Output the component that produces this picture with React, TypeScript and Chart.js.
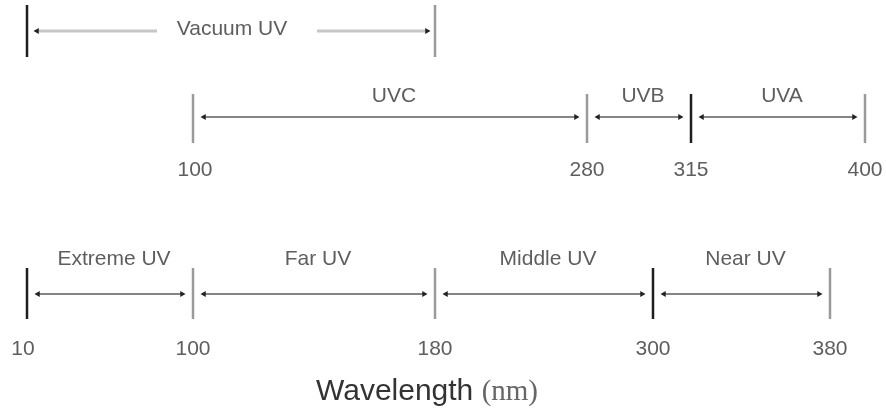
import React, { useEffect, useRef } from "react";
import { Chart, registerables } from "chart.js";

Chart.register(...registerables);

// ---------- data ----------
const vacuumName = "Vacuum UV";
const vacuumEdgePos = [27, 435]; // diagram-axis positions (10 nm .. 200 nm region)

const uvNames = ["UVC", "UVB", "UVA"];
const uvEdgesNm = ["100", "280", "315", "400"];
const uvEdgePos = [193, 587, 691, 865];
const uvEdgeDark = [false, false, true, false];

const bandNames = ["Extreme UV", "Far UV", "Middle UV", "Near UV"];
const bandEdgesNm = ["10", "100", "180", "300", "380"];
const bandEdgePos = [27, 193, 435, 653, 830];
const bandEdgeDark = [true, false, false, true, false];

const axisTitle = "Wavelength";
const axisUnit = "(nm)";

// ---------- layout / style ----------
const W = 886;
const H = 414;
const ROW1 = { top: 5, bottom: 57, arrow: 31, text: 29 };
const ROW2 = { top: 94, bottom: 143, arrow: 117, text: 96, tick: 170 };
const ROW3 = { top: 268, bottom: 319, arrow: 294, text: 259, tick: 349 };
const INSET = 11;
const DARK = "#1e1e1e";
const GREY = "#9a9a9a";
const ARROW = "#858585";
const LABEL_FONT = '21px "Liberation Sans", Arial, sans-serif';
const LABEL_COLOR = "#5e5e5e";

function barDs(x: number, row: any, dark: boolean) {
  return {
    data: [
      { x, y: row.top },
      { x, y: row.bottom },
    ],
    showLine: true,
    borderColor: dark ? DARK : GREY,
    borderWidth: 2.5,
    pointRadius: 0,
  };
}

function arrowDs(a: number, b: number, y: number, color: string, width: number) {
  return {
    data: [
      { x: a, y },
      { x: b, y },
    ],
    showLine: true,
    borderColor: color,
    borderWidth: width,
    pointStyle: "triangle",
    pointRotation: [270, 90],
    pointRadius: 3.5,
    pointBorderWidth: 0,
    pointBackgroundColor: "#222",
  };
}

function buildDatasets() {
  const ds: any[] = [];
  // Row 1: vacuum UV
  ds.push(barDs(vacuumEdgePos[0], ROW1, true));
  ds.push(barDs(vacuumEdgePos[1], ROW1, false));
  ds.push({
    ...arrowDs(vacuumEdgePos[0] + 10, 157, ROW1.arrow, "#c6c6c6", 3),
    pointRotation: [270, 0],
    pointRadius: [3.5, 0],
  });
  ds.push({
    ...arrowDs(317, vacuumEdgePos[1] - 8, ROW1.arrow, "#c6c6c6", 3),
    pointRotation: [0, 90],
    pointRadius: [0, 3.5],
  });
  // Row 2: UVC/UVB/UVA
  uvEdgePos.forEach((p, i) => ds.push(barDs(p, ROW2, uvEdgeDark[i])));
  for (let i = 0; i < uvNames.length; i++) {
    ds.push(arrowDs(uvEdgePos[i] + INSET, uvEdgePos[i + 1] - INSET, ROW2.arrow, ARROW, 2));
  }
  // Row 3: bands
  bandEdgePos.forEach((p, i) => ds.push(barDs(p, ROW3, bandEdgeDark[i])));
  for (let i = 0; i < bandNames.length; i++) {
    ds.push(arrowDs(bandEdgePos[i] + INSET, bandEdgePos[i + 1] - INSET, ROW3.arrow, ARROW, 2));
  }
  return ds;
}

const textPlugin = {
  id: "diagramText",
  afterDatasetsDraw(chart: any) {
    const { ctx, scales } = chart;
    const px = (v: number) => scales.x.getPixelForValue(v);
    const py = (v: number) => scales.y.getPixelForValue(v);
    ctx.save();
    ctx.textAlign = "center";
    ctx.textBaseline = "middle";
    ctx.font = LABEL_FONT;
    ctx.fillStyle = LABEL_COLOR;
    // Vacuum UV
    ctx.fillText(vacuumName, (px(vacuumEdgePos[0]) + px(vacuumEdgePos[1])) / 2 + 1, py(ROW1.text));
    // UV names
    uvNames.forEach((n, i) => {
      ctx.fillText(n, (px(uvEdgePos[i]) + px(uvEdgePos[i + 1])) / 2 + 4, py(ROW2.text));
    });
    uvEdgesNm.forEach((t, i) => ctx.fillText(t, px(uvEdgePos[i]) + (i === 0 ? 2 : 0), py(ROW2.tick)));
    bandNames.forEach((n, i) => {
      ctx.fillText(n, (px(bandEdgePos[i]) + px(bandEdgePos[i + 1])) / 2 + 4, py(ROW3.text));
    });
    bandEdgesNm.forEach((t, i) => ctx.fillText(t, px(bandEdgePos[i]) - (i === 0 ? 4 : 0), py(ROW3.tick)));
    // Axis title
    ctx.textAlign = "left";
    ctx.textBaseline = "alphabetic";
    const titleFont = '30px "Liberation Sans", Arial, sans-serif';
    const unitFont = '29px "Liberation Serif", "Times New Roman", serif';
    ctx.font = titleFont;
    const w1 = ctx.measureText(axisTitle + " ").width;
    ctx.font = unitFont;
    const w2 = ctx.measureText(axisUnit).width;
    const cx = 427;
    const x0 = cx - (w1 + w2) / 2;
    ctx.font = titleFont;
    ctx.fillStyle = "#333";
    ctx.fillText(axisTitle, x0, 400);
    ctx.font = unitFont;
    ctx.fillStyle = "#666";
    ctx.fillText(axisUnit, x0 + w1, 400);
    ctx.restore();
  },
};

export default function App() {
  const ref = useRef<HTMLCanvasElement | null>(null);
  useEffect(() => {
    if (!ref.current) return;
    const chart = new Chart(ref.current, {
      type: "scatter",
      data: { datasets: buildDatasets() },
      options: {
        responsive: false,
        animation: false,
        layout: { padding: 0, autoPadding: false },
        plugins: { legend: { display: false }, tooltip: { enabled: false } },
        scales: {
          x: { type: "linear", min: 0, max: W, display: false },
          y: { type: "linear", min: 0, max: H, reverse: true, display: false },
        },
      },
      plugins: [textPlugin],
    } as any);
    return () => chart.destroy();
  }, []);
  return (
    <div style={{ position: "fixed", left: 0, top: 0, width: W, height: H, background: "#fff" }}>
      <canvas ref={ref} width={W} height={H} style={{ width: W, height: H }} />
    </div>
  );
}
